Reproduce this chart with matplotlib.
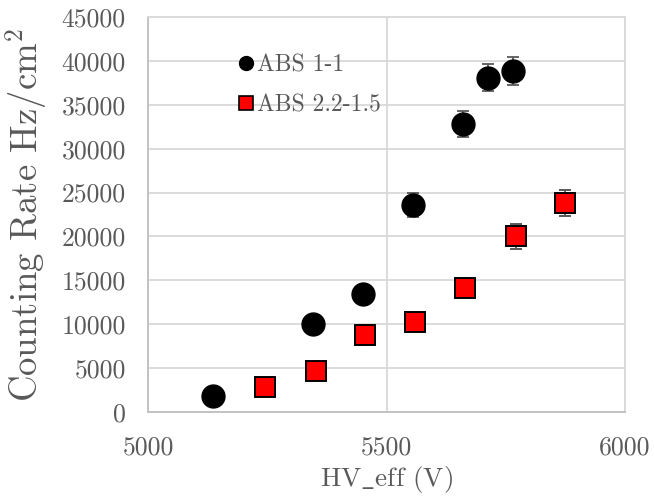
import matplotlib
matplotlib.use('Agg')
from matplotlib import pyplot as plt
from matplotlib.lines import Line2D

plt.rcParams['font.family'] = ['cmr10', 'DejaVu Serif']
plt.rcParams['mathtext.fontset'] = 'cm'
plt.rcParams['axes.unicode_minus'] = False

# ABS 1-1
hv_a = [5136, 5346, 5451, 5556, 5660, 5713, 5765]
rate_a = [1800, 10000, 13500, 23600, 32800, 38100, 38900]
err_a = [100, 600, 800, 1400, 1500, 1500, 1600]

# ABS 2.2-1.5
hv_b = [5245, 5352, 5455, 5560, 5665, 5771, 5874]
rate_b = [2800, 4700, 8800, 10300, 14100, 20000, 23800]
err_b = [200, 300, 500, 600, 850, 1400, 1500]

labels = ['ABS 1-1', 'ABS 2.2-1.5']
xticks = [5000, 5500, 6000]
yticks = list(range(0, 45001, 5000))

text_col = '#595959'
grid_col = '#D9D9D9'
axis_col = '#BFBFBF'

fig = plt.figure(figsize=(6.54, 4.97), dpi=100)
ax = fig.add_axes([148 / 654, 85 / 497, 477 / 654, 395 / 497])

ax.errorbar(hv_a, rate_a, yerr=err_a, fmt='o', color='black', ms=16.5,
            ecolor=text_col, elinewidth=1.3, capsize=4.5, capthick=1.3, zorder=3)
ax.errorbar(hv_b, rate_b, yerr=err_b, fmt='s', mfc='#FF0000', mec='black', mew=1.4,
            ms=15, ecolor=text_col, elinewidth=1.3, capsize=4.5, capthick=1.3, zorder=3)

ax.set_xlim(5000, 6000)
ax.set_ylim(0, 45000)
ax.set_xticks(xticks)
ax.set_yticks(yticks)
ax.set_axisbelow(True)
ax.grid(True, color=grid_col, linewidth=1.3)
for side in ['top', 'right']:
    ax.spines[side].set_color(grid_col)
    ax.spines[side].set_linewidth(1.3)
for side in ['left', 'bottom']:
    ax.spines[side].set_color(axis_col)
    ax.spines[side].set_linewidth(1.3)
ax.tick_params(length=0, labelsize=18.5, colors=text_col)
ax.tick_params(axis='y', pad=16)
ax.tick_params(axis='x', pad=17)

# cmr10 has no underscore glyph, so the mathtext one is used
ax.set_xlabel(r'HV$\_$eff (V)', fontsize=19.5, color=text_col, labelpad=3)
ax.set_ylabel(r'Counting Rate Hz/cm$^2$', fontsize=26.5, color=text_col, labelpad=9)

handles = [
    Line2D([], [], ls='none', marker='o', color='black', ms=10),
    Line2D([], [], ls='none', marker='s', mfc='#FF0000', mec='black', mew=1.2, ms=9.5),
]
ax.legend(handles, labels, loc='upper left', bbox_to_anchor=(0.17, 0.93),
          frameon=False, fontsize=17, labelcolor=text_col, handlelength=0.6,
          handletextpad=0.2, labelspacing=0.75, borderaxespad=0)

plt.savefig('out.png', dpi=100)
